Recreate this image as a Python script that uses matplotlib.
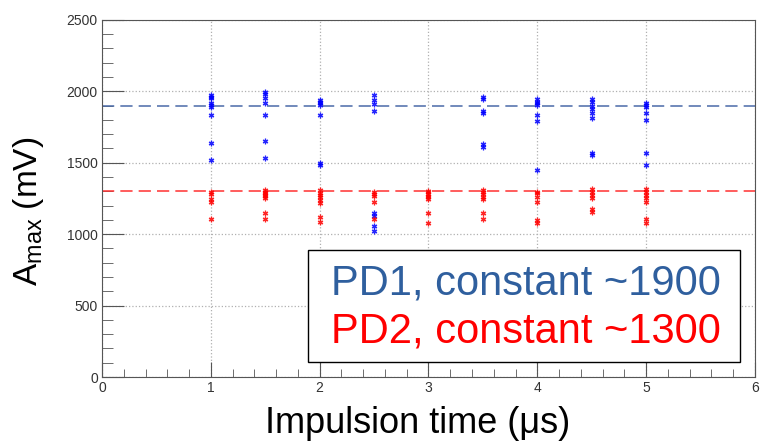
import numpy as np
import matplotlib.pyplot as plt
from matplotlib.patches import Rectangle
from matplotlib.ticker import MultipleLocator

# impulsion times (us) and measured amplitudes (mV)
pd1_x = [1] * 9 + [1.5] * 7 + [2] * 7 + [2.5] * 8 + [3.5] * 6 + [4] * 7 + [4.5] * 8 + [5] * 7
pd1_y = [1975, 1963, 1951, 1916, 1905, 1893, 1835, 1641, 1517,
         1998, 1982, 1951, 1921, 1835, 1653, 1532,
         1940, 1928, 1917, 1905, 1835, 1501, 1485,
         1975, 1940, 1912, 1865, 1146, 1130, 1057, 1022,
         1963, 1944, 1865, 1851, 1630, 1613,
         1944, 1928, 1917, 1905, 1835, 1795, 1450,
         1944, 1928, 1898, 1875, 1851, 1816, 1571, 1555,
         1917, 1905, 1893, 1851, 1800, 1571, 1485]

pd2_x = [1] * 5 + [1.5] * 8 + [2] * 8 + [2.5] * 5 + [3] * 8 + [3.5] * 7 + [4] * 6 + [4.5] * 6 + [5] * 7
pd2_y = [1298, 1282, 1244, 1228, 1104,
         1309, 1298, 1287, 1275, 1264, 1252, 1146, 1104,
         1309, 1291, 1275, 1258, 1240, 1221, 1123, 1088,
         1298, 1282, 1268, 1223, 1104,
         1305, 1294, 1282, 1270, 1258, 1245, 1151, 1081,
         1309, 1295, 1282, 1263, 1246, 1150, 1104,
         1298, 1286, 1263, 1228, 1099, 1081,
         1314, 1298, 1275, 1251, 1174, 1158,
         1314, 1298, 1275, 1251, 1228, 1104, 1081]

pd1_const = 1900
pd2_const = 1300
legend_lines = ['PD1, constant ~1900', 'PD2, constant ~1300']

blue_line = '#4a6aa8'
blue_text = '#2f5f9e'

plt.rcParams['font.family'] = ['Liberation Sans', 'DejaVu Sans']
plt.rcParams['mathtext.fontset'] = 'custom'
plt.rcParams['mathtext.rm'] = 'Liberation Sans'

fig = plt.figure(figsize=(7.61, 4.42), dpi=100)
ax = fig.add_axes([0.134, 0.147, 0.858, 0.808])

ax.set_xlim(0, 6)
ax.set_ylim(0, 2500)
ax.grid(True, color='#b0b0b0', linestyle=':', linewidth=0.9)
ax.set_axisbelow(True)

ax.axhline(pd1_const, color=blue_line, linestyle=(0, (8, 4)), linewidth=1.1)
ax.axhline(pd2_const, color='#ff3030', linestyle=(0, (8, 4)), linewidth=1.1)

ax.plot(pd1_x, pd1_y, linestyle='none', marker=(6, 2, 0), markersize=4,
        color='#0000ff', markeredgewidth=0.9, alpha=0.85)
ax.plot(pd2_x, pd2_y, linestyle='none', marker=(6, 2, 0), markersize=4,
        color='#ff0000', markeredgewidth=0.9, alpha=0.85)

ax.xaxis.set_major_locator(MultipleLocator(1))
ax.xaxis.set_minor_locator(MultipleLocator(0.2))
ax.yaxis.set_major_locator(MultipleLocator(500))
ax.yaxis.set_minor_locator(MultipleLocator(100))
ax.tick_params(which='both', direction='in', top=False, right=False,
               labelsize=10, labelcolor='#333333', color='#555555')
ax.tick_params(axis='x', which='major', length=11, pad=3)
ax.tick_params(axis='x', which='minor', length=6)
ax.tick_params(axis='y', which='major', length=16, pad=3)
ax.tick_params(axis='y', which='minor', length=8)
for s in ax.spines.values():
    s.set_color('#555555')
    s.set_linewidth(0.8)

ax.set_xlabel('Impulsion time (\u03bcs)', fontsize=26)
ax.xaxis.set_label_coords(0.483, -0.082)
ax.set_ylabel(r'A$_{\mathrm{max}}$ (mV)', fontsize=24)
ax.yaxis.set_label_coords(-0.085, 0.465)

# legend box drawn by hand
ax.add_patch(Rectangle((0.315, 0.042), 0.662, 0.314, transform=ax.transAxes,
                       facecolor='white', edgecolor='black', linewidth=1.0, zorder=5))
ax.text(0.649, 0.262, legend_lines[0], transform=ax.transAxes, ha='center', va='center',
        fontsize=30, color=blue_text, zorder=6)
ax.text(0.649, 0.128, legend_lines[1], transform=ax.transAxes, ha='center', va='center',
        fontsize=30, color='#ff0000', zorder=6)

fig.savefig('out.png', dpi=100)
